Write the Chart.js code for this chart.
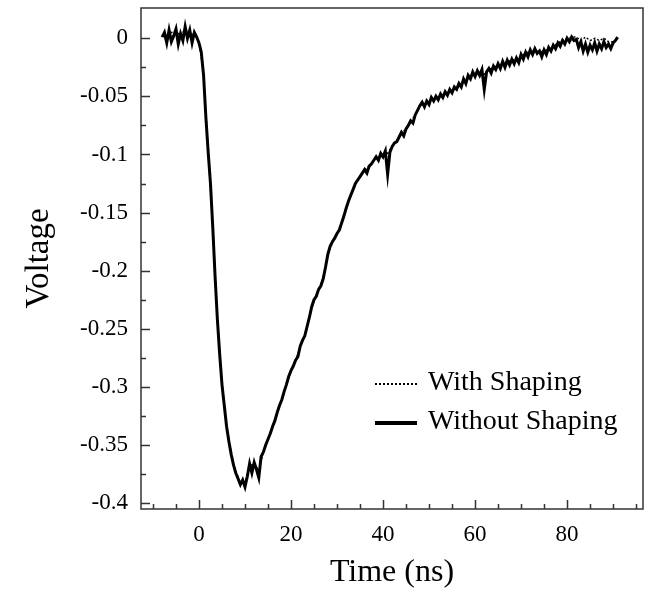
<!DOCTYPE html>
<html>
<head>
    <title>Voltage vs Time</title>
    <script src="https://cdn.jsdelivr.net/npm/chart.js"></script>
    <style>
        body { margin: 0; background: #fff; }
        #graph { display: block; }
    </style>
</head>
<body>
    <canvas id="graph" width="653" height="589"></canvas>

    <script>
        // time axis (ns) for the "Without Shaping" trace
        const timeNs = [
            -8, -7.5, -7, -6.5, -6, -5.5, -5, -4.5, -4, -3.5, -3, -2.5, -2, -1.5, -1, -0.5,
            0, 0.5, 1, 1.5, 2, 2.5, 3, 3.5, 4, 4.5, 5, 5.5, 6, 6.5, 7, 7.5, 8, 8.5, 9, 9.5,
            10, 10.5, 11, 11.5, 12, 12.5, 13, 13.5, 14, 14.5, 15, 15.5, 16, 16.5, 17, 17.5, 18, 18.5, 19, 19.5,
            20, 20.5, 21, 21.5, 22, 22.5, 23, 23.5, 24, 24.5, 25, 25.5, 26, 26.5, 27, 27.5, 28, 28.5, 29, 29.5,
            30, 30.5, 31, 31.5, 32, 32.5, 33, 33.5, 34, 34.5, 35, 35.5, 36, 36.5, 37, 37.5, 38, 38.5, 39, 39.5,
            40, 40.5, 41, 41.5, 42, 42.5, 43, 43.5, 44, 44.5, 45, 45.5, 46, 46.5, 47, 47.5, 48, 48.5, 49, 49.5,
            50, 50.5, 51, 51.5, 52, 52.5, 53, 53.5, 54, 54.5, 55, 55.5, 56, 56.5, 57, 57.5, 58, 58.5, 59, 59.5,
            60, 60.5, 61, 61.5, 62, 62.5, 63, 63.5, 64, 64.5, 65, 65.5, 66, 66.5, 67, 67.5, 68, 68.5, 69, 69.5,
            70, 70.5, 71, 71.5, 72, 72.5, 73, 73.5, 74, 74.5, 75, 75.5, 76, 76.5, 77, 77.5, 78, 78.5, 79, 79.5,
            80, 80.5, 81, 81.5, 82, 82.5, 83, 83.5, 84, 84.5, 85, 85.5, 86, 86.5, 87, 87.5, 88, 88.5, 89, 89.5,
            90, 90.5, 91
        ];
        const withoutShaping = [
            0.001, 0.005, -0.004, 0.007, -0.003, 0.002, 0.008, -0.005, 0.004, -0.002, 0.010, 0.000, 0.007, -0.004, 0.005, 0.001,
            -0.004, -0.012, -0.032, -0.068, -0.098, -0.125, -0.163, -0.205, -0.242, -0.272, -0.298, -0.316, -0.334, -0.347, -0.358, -0.367, -0.374, -0.379, -0.384, -0.380,
            -0.386, -0.377, -0.366, -0.374, -0.365, -0.371, -0.378, -0.360, -0.356, -0.350, -0.345, -0.340, -0.334, -0.329, -0.322, -0.316, -0.311, -0.304, -0.298, -0.291,
            -0.286, -0.282, -0.277, -0.274, -0.265, -0.260, -0.256, -0.248, -0.240, -0.231, -0.225, -0.222, -0.216, -0.213, -0.207, -0.197, -0.186, -0.179, -0.175, -0.172,
            -0.168, -0.165, -0.159, -0.153, -0.146, -0.140, -0.135, -0.130, -0.125, -0.122, -0.119, -0.116, -0.113, -0.116, -0.110, -0.108, -0.105, -0.102, -0.105, -0.099,
            -0.102, -0.097, -0.117, -0.098, -0.093, -0.090, -0.089, -0.085, -0.081, -0.084, -0.078, -0.075, -0.071, -0.073, -0.066, -0.062, -0.058, -0.055, -0.059, -0.054,
            -0.057, -0.051, -0.054, -0.050, -0.053, -0.048, -0.051, -0.046, -0.049, -0.044, -0.047, -0.042, -0.044, -0.039, -0.042, -0.035, -0.039, -0.032, -0.035, -0.029,
            -0.033, -0.028, -0.032, -0.027, -0.044, -0.029, -0.026, -0.030, -0.024, -0.027, -0.022, -0.026, -0.020, -0.025, -0.019, -0.023, -0.018, -0.022, -0.017, -0.021,
            -0.014, -0.018, -0.012, -0.016, -0.010, -0.014, -0.009, -0.013, -0.011, -0.016, -0.010, -0.014, -0.008, -0.011, -0.006, -0.009, -0.004, -0.007, -0.002, -0.005,
            0.000, -0.003, 0.001, -0.002, -0.001, -0.008, -0.003, -0.011, -0.005, -0.012, -0.006, -0.010, -0.004, -0.011, -0.005, -0.009, -0.003, -0.008, -0.005, -0.009,
            -0.004, -0.002, 0.001
        ];

        // coarser trace for "With Shaping" (almost identical, drawn dotted underneath)
        const timeNsShaped = [
            -8, -7, -6, -5, -4, -3, -2, -1, 0, 1, 2, 3, 4, 5, 6, 7, 8, 9, 10,
            11, 12, 13, 14, 15, 16, 17, 18, 19, 20, 21, 22, 23, 24, 25, 26, 27, 28, 29, 30,
            31, 32, 33, 34, 35, 36, 37, 38, 39, 40, 41, 42, 43, 44, 45, 46, 47, 48, 49, 50,
            51, 52, 53, 54, 55, 56, 57, 58, 59, 60, 61, 62, 63, 64, 65, 66, 67, 68, 69, 70,
            71, 72, 73, 74, 75, 76, 77, 78, 79, 80, 81, 82, 83, 84, 85, 86, 87, 88, 89, 90, 91
        ];
        const withShaping = [
            0.003, -0.002, 0.005, 0.006, 0.002, 0.008, 0.004, 0.003, -0.003, -0.031, -0.097, -0.162, -0.241, -0.297, -0.333, -0.357, -0.373, -0.382, -0.383,
            -0.368, -0.366, -0.372, -0.356, -0.345, -0.334, -0.322, -0.311, -0.298, -0.286, -0.277, -0.266, -0.255, -0.240, -0.226, -0.216, -0.206, -0.187, -0.176, -0.168,
            -0.159, -0.147, -0.135, -0.125, -0.119, -0.113, -0.110, -0.105, -0.103, -0.101, -0.099, -0.093, -0.088, -0.082, -0.078, -0.072, -0.066, -0.058, -0.057, -0.055,
            -0.053, -0.051, -0.049, -0.047, -0.045, -0.043, -0.040, -0.037, -0.033, -0.031, -0.030, -0.031, -0.027, -0.025, -0.023, -0.022, -0.020, -0.019, -0.018, -0.015,
            -0.013, -0.011, -0.010, -0.012, -0.011, -0.009, -0.007, -0.004, -0.002, 0.000, 0.001, 0.001, -0.002, 0.001, -0.002, 0.000, -0.002, 0.000, -0.003, -0.003, -0.001
        ];

        const timeTicks = [0, 20, 40, 60, 80];
        const voltageTicks = [0, -0.05, -0.1, -0.15, -0.2, -0.25, -0.3, -0.35, -0.4];
        const seriesLabels = ['With Shaping', 'Without Shaping'];

        const serif = "'Liberation Serif', 'Times New Roman', serif";
        const axisColor = '#333';

        // box around the plot, inward ticks, and the legend inside the plot
        const framePlugin = {
            id: 'frame',
            afterDraw(chart) {
                const { ctx, chartArea: a, scales: { x, y } } = chart;
                ctx.save();
                ctx.strokeStyle = axisColor;
                ctx.lineWidth = 1.5;
                ctx.strokeRect(a.left, a.top, a.right - a.left, a.bottom - a.top);

                ctx.beginPath();
                for (let i = -2; i <= 19; i++) {
                    const px = Math.round(x.getPixelForValue(i * 5)) + 0.5;
                    const len = i % 4 === 0 ? 9 : 5;
                    ctx.moveTo(px, a.bottom);
                    ctx.lineTo(px, a.bottom - len);
                }
                for (let i = -16; i <= 0; i++) {
                    const py = Math.round(y.getPixelForValue(i * 0.025)) + 0.5;
                    const len = i % 2 === 0 ? 9 : 5;
                    ctx.moveTo(a.left, py);
                    ctx.lineTo(a.left + len, py);
                }
                ctx.stroke();

                // legend
                const lx = a.right - 268;
                const ly = a.top + 376;
                ctx.strokeStyle = '#000';
                ctx.lineWidth = 2;
                ctx.setLineDash([2, 2]);
                ctx.beginPath();
                ctx.moveTo(lx, ly);
                ctx.lineTo(lx + 42, ly);
                ctx.stroke();
                ctx.setLineDash([]);
                ctx.lineWidth = 4;
                ctx.beginPath();
                ctx.moveTo(lx, ly + 39);
                ctx.lineTo(lx + 42, ly + 39);
                ctx.stroke();

                ctx.fillStyle = '#000';
                ctx.font = '28px ' + serif;
                ctx.textBaseline = 'alphabetic';
                ctx.fillText(seriesLabels[0], lx + 53, ly + 6);
                ctx.fillText(seriesLabels[1], lx + 53, ly + 45);
                ctx.restore();
            }
        };

        const ctx = document.getElementById('graph').getContext('2d');

        new Chart(ctx, {
            type: 'line',
            data: {
                datasets: [{
                    label: seriesLabels[0],
                    data: timeNsShaped.map((t, i) => ({ x: t, y: withShaping[i] })),
                    borderColor: '#000',
                    borderWidth: 1.5,
                    borderDash: [2, 2],
                    pointRadius: 0,
                    fill: false,
                    order: 2
                }, {
                    label: seriesLabels[1],
                    data: timeNs.map((t, i) => ({ x: t, y: withoutShaping[i] })),
                    borderColor: '#000',
                    borderWidth: 3,
                    pointRadius: 0,
                    fill: false,
                    order: 1
                }]
            },
            options: {
                responsive: false,
                animation: false,
                layout: { padding: { left: 0, right: 10, top: 8, bottom: 0 } },
                plugins: {
                    legend: { display: false },
                    tooltip: { enabled: false }
                },
                scales: {
                    x: {
                        type: 'linear',
                        min: -12.6,
                        max: 96.5,
                        afterFit: (s) => { s.height = 80; s.paddingLeft = 0; s.paddingRight = 0; },
                        afterBuildTicks: (s) => { s.ticks = timeTicks.map(v => ({ value: v })); },
                        grid: { display: false, drawTicks: false },
                        border: { display: false },
                        ticks: {
                            autoSkip: false,
                            maxRotation: 0,
                            padding: 12,
                            color: '#000',
                            font: { family: serif, size: 23 }
                        },
                        title: {
                            display: true,
                            text: 'Time (ns)',
                            color: '#000',
                            padding: 0,
                            font: { family: serif, size: 32, lineHeight: 1.05 }
                        }
                    },
                    y: {
                        min: -0.405,
                        max: 0.026,
                        afterFit: (s) => { s.width = 141; s.paddingTop = 0; s.paddingBottom = 0; },
                        afterBuildTicks: (s) => { s.ticks = voltageTicks.map(v => ({ value: v })); },
                        grid: { display: false, drawTicks: false },
                        border: { display: false },
                        ticks: {
                            autoSkip: false,
                            padding: 13,
                            color: '#000',
                            font: { family: serif, size: 23 },
                            callback: (v) => String(v)
                        },
                        title: {
                            display: true,
                            text: 'Voltage',
                            color: '#000',
                            padding: { top: 20 },
                            font: { family: serif, size: 33 }
                        }
                    }
                }
            },
            plugins: [framePlugin]
        });
    </script>
</body>
</html>
